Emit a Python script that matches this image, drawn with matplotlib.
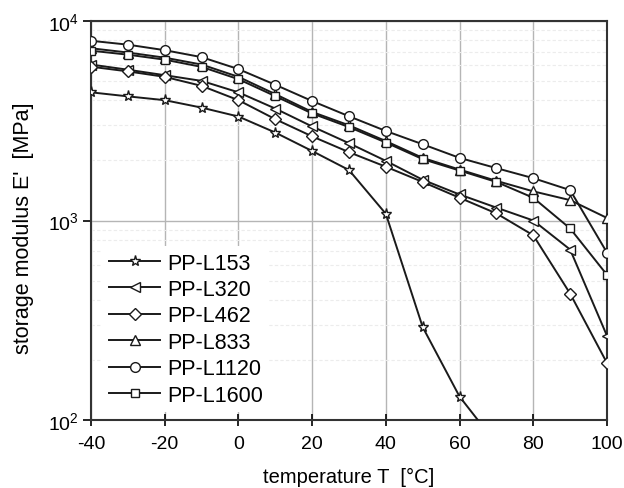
import math
import matplotlib
matplotlib.use("Agg")
import matplotlib.pyplot as plt
from matplotlib.ticker import FixedLocator, FuncFormatter, LogLocator, NullFormatter

plt.rcParams['font.family'] = ['Liberation Sans', 'DejaVu Sans']
plt.rcParams['mathtext.fontset'] = 'custom'
plt.rcParams['mathtext.rm'] = 'Liberation Sans'
plt.rcParams['mathtext.it'] = 'Liberation Sans'
plt.rcParams['axes.unicode_minus'] = False

temperature = [-40, -30, -20, -10, 0, 10, 20, 30, 40, 50, 60, 70, 80, 90, 100]

pp_l153 = [4390, 4190, 4010, 3680, 3320, 2760, 2230, 1790, 1080, 292, 131, 76]
pp_l320 = [6050, 5700, 5350, 5010, 4390, 3640, 2960, 2440, 1990, 1600, 1350, 1160, 1000, 715, 264]
pp_l462 = [5900, 5590, 5250, 4730, 4010, 3220, 2640, 2200, 1860, 1560, 1300, 1085, 843, 430, 193]
pp_l833 = [7300, 6950, 6550, 6050, 5250, 4300, 3500, 3000, 2500, 2060, 1800, 1580, 1400, 1265, 1030]
pp_l1120 = [7960, 7610, 7140, 6590, 5740, 4790, 3970, 3330, 2810, 2410, 2060, 1830, 1630, 1420, 690]
pp_l1600 = [7100, 6780, 6400, 5890, 5110, 4200, 3440, 2940, 2460, 2030, 1780, 1560, 1300, 912, 534]

series = [
    ("PP-L153", pp_l153, "*", 8),
    ("PP-L320", pp_l320, "<", 7),
    ("PP-L462", pp_l462, "D", 6),
    ("PP-L833", pp_l833, "^", 7),
    ("PP-L1120", pp_l1120, "o", 7),
    ("PP-L1600", pp_l1600, "s", 6),
]

xticks = [-40, -20, 0, 20, 40, 60, 80, 100]
yticks = [1e2, 1e3, 1e4]

fig = plt.figure(figsize=(6.24, 4.89), dpi=100)
ax = fig.add_axes([91/624, 1-421/489, (607-91)/624, (421-22)/489])

for name, vals, mk, ms in series:
    ax.plot(temperature[:len(vals)], vals, color='#1a1a1a', lw=1.4, marker=mk,
            markersize=ms, markerfacecolor='white', markeredgecolor='#1a1a1a',
            markeredgewidth=1.0, label=name, zorder=3)

ax.set_yscale('log')
ax.set_xlim(-40, 100)
ax.set_ylim(1e2, 1e4)
ax.xaxis.set_major_locator(FixedLocator(xticks))
ax.yaxis.set_major_locator(FixedLocator(yticks))
ax.yaxis.set_major_formatter(FuncFormatter(lambda v, p: r'$10^{%d}$' % round(math.log10(v))))
ax.yaxis.set_minor_locator(LogLocator(base=10, subs=range(2, 10)))
ax.yaxis.set_minor_formatter(NullFormatter())

ax.grid(True, which='major', color='#b5b5b5', lw=1.0, zorder=0)
ax.grid(True, which='minor', axis='y', color='#ececec', lw=0.8, ls=(0, (3, 2)), zorder=0)

ax.tick_params(axis='x', which='major', direction='inout', length=8, width=1.2, labelsize=14, pad=7)
ax.tick_params(axis='y', which='major', direction='out', length=6, width=1.2, labelsize=14, pad=3)
ax.tick_params(axis='y', which='minor', length=0)

for s in ax.spines.values():
    s.set_linewidth(1.5)
    s.set_color('#333333')

ax.set_xlabel('temperature T  [°C]', fontsize=14.5)
ax.xaxis.set_label_coords(0.5, -0.118)
ax.set_ylabel("storage modulus E'  [MPa]", fontsize=15.5)
ax.yaxis.set_label_coords(-0.11, 0.484)

leg = ax.legend(loc='lower left', bbox_to_anchor=(0.022, 0.02), borderaxespad=0, frameon=True,
                fontsize=15.5, handlelength=2.4, handletextpad=0.3, labelspacing=0.25, borderpad=0.3)
leg.get_frame().set_edgecolor('none')
leg.get_frame().set_facecolor('white')
leg.get_frame().set_alpha(1.0)

fig.savefig('out.png', dpi=100)
